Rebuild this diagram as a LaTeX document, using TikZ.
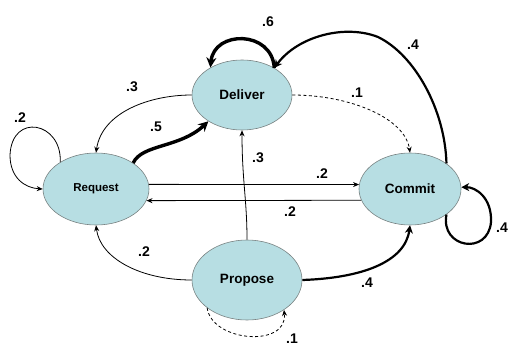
\documentclass[tikz,border=0pt]{standalone}
\usepackage{fontspec}
\setmainfont{Liberation Sans}
\usetikzlibrary{shapes.geometric,arrows.meta}
\definecolor{statefill}{RGB}{183,222,227}
\definecolor{stateline}{RGB}{120,130,130}
\begin{document}
\begin{tikzpicture}[x=1pt,y=-1pt,
  state/.style={ellipse,draw=stateline,line width=0.6pt,fill=statefill,inner sep=0pt,
    font=\bfseries\fontsize{13.5}{14}\selectfont},
  thinarc/.style={line width=0.8pt,-{Stealth[length=6pt,width=5pt]}},
  midarc/.style={line width=2.2pt,-{Stealth[length=8pt,width=8pt]}},
  heavyarc/.style={line width=3.4pt,-{Stealth[length=10pt,width=10pt]}},
  dasharc/.style={thinarc,dash pattern=on 3pt off 2.5pt},
  prob/.style={font=\bfseries\fontsize{14}{14}\selectfont,inner sep=0pt}]
\useasboundingbox (0,0) rectangle (510,347);

% states
\node[state,minimum width=100pt,minimum height=70pt] (D) at (242,95) {Deliver};
\node[state,minimum width=106pt,minimum height=72pt,font=\bfseries\fontsize{11.5}{12}\selectfont] (R) at (96,189) {Request};
\node[state,minimum width=102pt,minimum height=72pt] (C) at (410,189) {Commit};
\node[state,minimum width=110pt,minimum height=80pt] (P) at (247,280) {Propose};

% Request self loop
\draw[thinarc] (R.143) .. controls (62,122) and (12,112) .. (10,155)
  .. controls (10,178) and (25,188) .. (R.west);
\node[prob] (l1) at (20,118) {.2};

% Deliver -> Request
\draw[thinarc] (D.west) .. controls (150,95) and (102,112) .. (R.north);
\node[prob] (l2) at (132,87) {.3};

% Request -> Deliver
\draw[heavyarc] (R.35) .. controls (142,144) and (180,148) .. (D.218);
\node[prob] (l3) at (156,127) {.5};

% Deliver self loop
\draw[heavyarc] (D.40) .. controls (272,30) and (214,30) .. (D.139);
\node[prob] (l4) at (268,22) {.6};

% Commit -> Deliver
\draw[midarc] (C.35) .. controls (445,110) and (415,55) .. (378,37)
  .. controls (345,24) and (298,36) .. (D.40);
\node[prob] (l5) at (413,45) {.4};

% Deliver -> Commit
\draw[dasharc] (D.east) .. controls (350,95) and (405,118) .. (C.north);
\node[prob] (l6) at (357,93) {.1};

% Request <-> Commit
\draw[thinarc] (R.5) -- (C.175);
\node[prob] (l7) at (322,174) {.2};
\draw[thinarc] (C.193) -- (R.-13);
\node[prob] (l8) at (290,212) {.2};

% Propose -> Deliver
\draw[thinarc] (P.north) .. controls (247,200) and (242,180) .. (D.south);
\node[prob] (l9) at (258,158) {.3};

% Propose -> Request
\draw[thinarc] (P.west) .. controls (140,280) and (100,258) .. (R.south);
\node[prob] (l10) at (144,252) {.2};

% Propose -> Commit
\draw[midarc] (P.east) .. controls (362,278) and (405,262) .. (C.south);
\node[prob] (l11) at (367,283) {.4};

% Propose self loop
\draw[dasharc] (P.215) .. controls (212,342) and (288,348) .. (P.-39);
\node[prob] (l12) at (292,339) {.1};

% Commit self loop
\draw[midarc] (C.-35) .. controls (440,248) and (488,256) .. (491,222)
  .. controls (492,198) and (476,187) .. (C.2);
\node[prob] (l13) at (502,228) {.4};
\end{tikzpicture}
\end{document}
